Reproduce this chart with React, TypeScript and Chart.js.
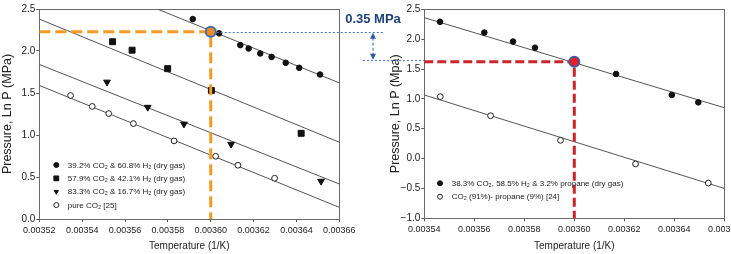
import React, { useEffect, useRef } from 'react';
import { Chart, registerables } from 'chart.js';

Chart.register(...registerables);

// ---------- Left panel data ----------
const leftXMin = 0.00352;
const leftXMax = 0.00366;
const leftYMin = 0;
const leftYMax = 2.5;

const h2_39X = [0.0035916, 0.0036039, 0.0036138, 0.0036177, 0.0036231, 0.0036284, 0.003635, 0.0036413, 0.003651];
const h2_39Y = [2.38, 2.21, 2.07, 2.03, 1.97, 1.93, 1.86, 1.8, 1.72];
const h2_58X = [0.0035542, 0.0035633, 0.0035799, 0.0036003, 0.0036422];
const h2_58Y = [2.11, 2.01, 1.79, 1.53, 1.02];
const h2_83X = [0.0035516, 0.0035706, 0.0035875, 0.0036095, 0.0036515];
const h2_83Y = [1.63, 1.33, 1.13, 0.89, 0.45];
const pureX = [0.0035346, 0.0035447, 0.0035524, 0.0035639, 0.0035829, 0.0036023, 0.0036127, 0.0036298];
const pureY = [1.47, 1.34, 1.255, 1.136, 0.93, 0.747, 0.64, 0.485];

const leftFitX = [0.00352, 0.00366];
const fit39Y = [3.07, 1.62];
const fit58Y = [2.38, 0.914];
const fit83Y = [1.84, 0.417];
const fitPureY = [1.59, 0.139];

const orangeX = 0.0036;
const orangeY = 2.23;

const leftLabels = [
  '39.2% CO₂ & 60.8% H₂ (dry gas)',
  '57.9% CO₂ & 42.1% H₂ (dry gas)',
  '83.3% CO₂ & 16.7% H₂ (dry gas)',
  'pure CO₂ [25]',
];

// ---------- Right panel data ----------
const rightXMin = 0.00354;
const rightXMax = 0.00366;
const rightYMin = -1;
const rightYMax = 2.5;

const propX = [0.0035463, 0.003564, 0.0035755, 0.0035843, 0.0036167, 0.003639, 0.0036496];
const propY = [2.29, 2.11, 1.96, 1.857, 1.417, 1.065, 0.942];
const co2PropX = [0.0035464, 0.0035665, 0.0035945, 0.0036245, 0.0036536];
const co2PropY = [1.037, 0.718, 0.306, -0.09, -0.41];

const rightFitX = [0.00354, 0.00366];
const fitPropY = [2.36, 0.852];
const fitCo2PropY = [1.065, -0.5];

const redX = 0.0036;
const redY = 1.62;

const rightLabels = [
  '38.3% CO₂, 58.5% H₂ & 3.2% propane (dry gas)',
  'CO₂ (91%)- propane (9%) [24]',
];

const deltaLabel = '0.35 MPa';
const xTitle = 'Temperature (1/K)';
const leftYTitle = 'Pressure, Ln P (MPa)';
const rightYTitle = 'Pressure, Ln P (Mpa)';

// ---------- helpers ----------
const pts = (xs: number[], ys: number[]) => xs.map((x, i) => ({ x, y: ys[i] }));

Chart.defaults.font.family = '"Liberation Sans", Arial, Helvetica, sans-serif';
Chart.defaults.color = '#222';

type Style = { style: string; r: number; fill: string; stroke: string; rot: number };

const filledCircle: Style = { style: 'circle', r: 2.8, fill: '#111', stroke: '#111', rot: 0 };
const square: Style = { style: 'rect', r: 4.2, fill: '#111', stroke: '#111', rot: 0 };
const triDown: Style = { style: 'triangle', r: 3.9, fill: '#111', stroke: '#111', rot: 180 };
const openCircle: Style = { style: 'circle', r: 2.9, fill: '#fff', stroke: '#222', rot: 0 };

function pointDs(label: string, xs: number[], ys: number[], s: Style) {
  return {
    label,
    data: pts(xs, ys),
    inLegend: true,
    mk: s,
    pointStyle: s.style,
    pointRotation: s.rot,
    pointRadius: s.r,
    pointBackgroundColor: s.fill,
    pointBorderColor: s.stroke,
    pointBorderWidth: 1,
    showLine: false,
    order: 2,
  };
}

function lineDs(xs: number[], ys: number[]) {
  return {
    label: '',
    data: pts(xs, ys),
    showLine: true,
    borderColor: '#555',
    borderWidth: 1,
    pointRadius: 0,
    tension: 0,
    fill: false,
    order: 3,
  };
}

function drawMarker(ctx: CanvasRenderingContext2D, s: Style, x: number, y: number, r: number) {
  ctx.beginPath();
  if (s.style === 'circle') {
    ctx.arc(x, y, r, 0, Math.PI * 2);
  } else if (s.style === 'rect') {
    const h = r * Math.SQRT1_2;
    ctx.rect(x - h, y - h, 2 * h, 2 * h);
  } else {
    const dir = s.rot === 180 ? 1 : -1;
    ctx.moveTo(x - r * 0.866, y - dir * r * 0.5);
    ctx.lineTo(x + r * 0.866, y - dir * r * 0.5);
    ctx.lineTo(x, y + dir * r);
    ctx.closePath();
  }
  ctx.fillStyle = s.fill;
  ctx.fill();
  ctx.strokeStyle = s.stroke;
  ctx.lineWidth = 1;
  ctx.stroke();
}

const framePlugin = {
  id: 'frameLegend',
  beforeDatasetsDraw(chart: any) {
    const { ctx, chartArea } = chart;
    const l = Math.round(chartArea.left) + 0.5;
    const t = Math.round(chartArea.top) + 0.5;
    const r = Math.round(chartArea.right) + 0.5;
    const b = Math.round(chartArea.bottom) + 0.5;
    ctx.save();
    ctx.strokeStyle = '#6a6a6a';
    ctx.lineWidth = 1;
    ctx.strokeRect(l, t, r - l, b - t);
    ctx.restore();
  },
  afterDraw(chart: any, _args: any, opts: any) {
    if (!opts || opts.mx === undefined) return;
    const { ctx, chartArea } = chart;
    const items = chart.data.datasets.filter((d: any) => d.inLegend);
    ctx.save();
    ctx.font = '8px "Liberation Sans", Arial, sans-serif';
    ctx.textBaseline = 'middle';
    ctx.textAlign = 'left';
    items.forEach((d: any, i: number) => {
      const y = chartArea.bottom - opts.first + i * opts.gap;
      drawMarker(ctx, d.mk, chartArea.left + opts.mx, y, d.mk.style === 'rect' ? 3.4 : 2.5);
      ctx.fillStyle = '#222';
      ctx.fillText(d.label, chartArea.left + opts.tx, y + 0.5);
    });
    ctx.restore();
  },
};

function fmtY(v: any) {
  const n = Number(v);
  return (n < -1e-9 ? '−' : '') + Math.abs(n).toFixed(1);
}

function scales(xMin: number, xMax: number, yMin: number, yMax: number, yTitle: string, yWidth: number, xHeight: number) {
  const grid = { display: true, drawOnChartArea: false, drawTicks: true, tickLength: 3, color: '#555' };
  return {
    x: {
      type: 'linear',
      min: xMin,
      max: xMax,
      border: { display: false },
      grid,
      ticks: {
        stepSize: 0.00002,
        autoSkip: false,
        maxRotation: 0,
        padding: 3,
        font: { size: 9 },
        color: '#222',
        callback: (v: any) => Number(v).toFixed(5),
      },
      title: { display: true, text: xTitle, font: { size: 10 }, color: '#222', padding: { top: 0, bottom: 2 } },
      afterFit: (s: any) => { s.height = xHeight; },
    },
    y: {
      type: 'linear',
      min: yMin,
      max: yMax,
      border: { display: false },
      grid,
      ticks: {
        stepSize: 0.5,
        padding: 1,
        font: { size: 10 },
        color: '#222',
        callback: fmtY,
      },
      title: { display: true, text: yTitle, font: { size: 12.5 }, color: '#222', padding: { top: 0, bottom: 0 } },
      afterFit: (s: any) => { s.width = yWidth; },
    },
  };
}

function leftConfig(): any {
  return {
    type: 'scatter',
    data: {
      datasets: [
        {
          label: '',
          data: [{ x: orangeX, y: orangeY }],
          pointRadius: 5,
          pointBackgroundColor: '#f28b1c',
          pointBorderColor: '#3f6fb6',
          pointBorderWidth: 2,
          order: 0,
        },
        {
          label: '',
          data: [{ x: leftXMin, y: orangeY }, { x: orangeX, y: orangeY }, { x: orangeX, y: leftYMin }],
          showLine: true,
          borderColor: '#f39a22',
          borderWidth: 3,
          borderDash: [11, 5],
          pointRadius: 0,
          tension: 0,
          order: 1,
        },
        pointDs(leftLabels[0], h2_39X, h2_39Y, filledCircle),
        pointDs(leftLabels[1], h2_58X, h2_58Y, square),
        pointDs(leftLabels[2], h2_83X, h2_83Y, triDown),
        pointDs(leftLabels[3], pureX, pureY, openCircle),
        lineDs(leftFitX, fit39Y),
        lineDs(leftFitX, fit58Y),
        lineDs(leftFitX, fit83Y),
        lineDs(leftFitX, fitPureY),
      ],
    },
    options: {
      responsive: false,
      animation: false,
      events: [],
      layout: { padding: { top: 9, left: 0, right: 22.7, bottom: 0 } },
      plugins: {
        legend: { display: false },
        tooltip: { enabled: false },
        frameLegend: { mx: 17, tx: 28.5, first: 54, gap: 13.35 },
      },
      scales: scales(leftXMin, leftXMax, leftYMin, leftYMax, leftYTitle, 39.3, 35),
    },
    plugins: [framePlugin],
  };
}

function rightConfig(): any {
  return {
    type: 'scatter',
    data: {
      datasets: [
        {
          label: '',
          data: [{ x: redX, y: redY }],
          pointRadius: 5,
          pointBackgroundColor: '#ee1c25',
          pointBorderColor: '#3c5aa8',
          pointBorderWidth: 2,
          order: 0,
        },
        {
          label: '',
          data: [{ x: rightXMin, y: redY }, { x: redX, y: redY }, { x: redX, y: rightYMin }],
          showLine: true,
          borderColor: '#c8262b',
          borderWidth: 3,
          borderDash: [9, 4],
          pointRadius: 0,
          tension: 0,
          order: 1,
        },
        pointDs(rightLabels[0], propX, propY, filledCircle),
        pointDs(rightLabels[1], co2PropX, co2PropY, openCircle),
        lineDs(rightFitX, fitPropY),
        lineDs(rightFitX, fitCo2PropY),
      ],
    },
    options: {
      responsive: false,
      animation: false,
      events: [],
      layout: { padding: { top: 9.3, left: 26, right: 37.7, bottom: 0 } },
      plugins: {
        legend: { display: false },
        tooltip: { enabled: false },
        frameLegend: { mx: 15.7, tx: 27.4, first: 35, gap: 13.4 },
      },
      scales: scales(rightXMin, rightXMax, rightYMin, rightYMax, rightYTitle, 36.3, 35.7),
    },
    plugins: [framePlugin],
  };
}

const LEFT_OFFSET = 0;
const RIGHT_OFFSET = 362;

function drawOverlay(canvas: HTMLCanvasElement, cL: any, cR: any) {
  const ctx = canvas.getContext('2d');
  if (!ctx) return;
  ctx.clearRect(0, 0, canvas.width, canvas.height);
  const ox = cL.scales.x.getPixelForValue(orangeX) + LEFT_OFFSET;
  const oy = cL.scales.y.getPixelForValue(orangeY);
  const ry = cR.scales.y.getPixelForValue(redY);
  const rAxis = cR.chartArea.left + RIGHT_OFFSET;
  const ax = 373;

  ctx.save();
  // dotted guide lines
  ctx.strokeStyle = '#4a7cc8';
  ctx.lineWidth = 1;
  ctx.setLineDash([2, 2]);
  ctx.beginPath();
  ctx.moveTo(ox + 6, Math.round(oy) + 0.5);
  ctx.lineTo(383, Math.round(oy) + 0.5);
  ctx.moveTo(363, Math.round(ry) - 1.5);
  ctx.lineTo(rAxis, Math.round(ry) - 1.5);
  ctx.stroke();

  // double-headed arrow
  const top = oy + 1;
  const bot = ry - 2;
  ctx.strokeStyle = '#2d5ca6';
  ctx.setLineDash([3, 2]);
  ctx.beginPath();
  ctx.moveTo(ax, top + 5);
  ctx.lineTo(ax, bot - 5);
  ctx.stroke();
  ctx.setLineDash([]);
  ctx.fillStyle = '#2d5ca6';
  ctx.beginPath();
  ctx.moveTo(ax, top);
  ctx.lineTo(ax - 3, top + 6);
  ctx.lineTo(ax + 3, top + 6);
  ctx.closePath();
  ctx.fill();
  ctx.beginPath();
  ctx.moveTo(ax, bot);
  ctx.lineTo(ax - 3, bot - 6);
  ctx.lineTo(ax + 3, bot - 6);
  ctx.closePath();
  ctx.fill();

  // label
  ctx.fillStyle = '#1e3f7a';
  ctx.font = 'bold 13px "Liberation Sans", Arial, sans-serif';
  ctx.textAlign = 'center';
  ctx.textBaseline = 'middle';
  ctx.fillText(deltaLabel, 373, 19.5);
  ctx.restore();
}

export default function App() {
  const lRef = useRef<HTMLCanvasElement>(null);
  const rRef = useRef<HTMLCanvasElement>(null);
  const oRef = useRef<HTMLCanvasElement>(null);

  useEffect(() => {
    const cL = new Chart(lRef.current as HTMLCanvasElement, leftConfig());
    const cR = new Chart(rRef.current as HTMLCanvasElement, rightConfig());
    if (oRef.current) drawOverlay(oRef.current, cL, cR);
    return () => {
      cL.destroy();
      cR.destroy();
    };
  }, []);

  return (
    <div
      style={{
        position: 'fixed',
        left: 0,
        top: 0,
        width: 731,
        height: 254,
        overflow: 'hidden',
        background: '#fff',
      }}
    >
      <canvas
        ref={lRef}
        width={362}
        height={254}
        style={{ position: 'absolute', left: LEFT_OFFSET, top: 0, width: 362, height: 254 }}
      />
      <canvas
        ref={rRef}
        width={400}
        height={254}
        style={{ position: 'absolute', left: RIGHT_OFFSET, top: 0, width: 400, height: 254 }}
      />
      <canvas
        ref={oRef}
        width={731}
        height={254}
        style={{ position: 'absolute', left: 0, top: 0, width: 731, height: 254, pointerEvents: 'none' }}
      />
    </div>
  );
}
